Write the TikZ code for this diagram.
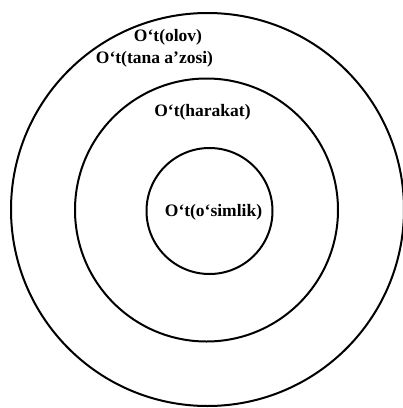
\documentclass[tikz,border=0pt]{standalone}
\usepackage{fontspec}
\setmainfont{Liberation Serif}
\usetikzlibrary{positioning}

\tikzset{
  ring/.style={black, line width=2pt},
  lbl/.style={inner sep=0pt, font=\fontsize{17.5}{20}\selectfont\bfseries}
}

\begin{document}
\begin{tikzpicture}[x=1pt, y=-1pt]
\useasboundingbox (0,0) rectangle (403,408);

% Three rings, outer to inner
\coordinate (O) at (207.5,209.5);
\draw[ring] (O) circle (196.5);
\draw[ring] (206.5,210) circle (131.5);
\draw[ring] (209.5,211) circle (63);

% Labels
\node[lbl] (olov)    at (168,37)  {O‘t(olov)};
\node[lbl] (tana)    at (154.5,59) {O‘t(tana a’zosi)};
\node[lbl] (harakat) at (202.5,112) {O‘t(harakat)};
\node[lbl] (simlik)  at (213.5,212) {O‘t(o‘simlik)};
\end{tikzpicture}
\end{document}
